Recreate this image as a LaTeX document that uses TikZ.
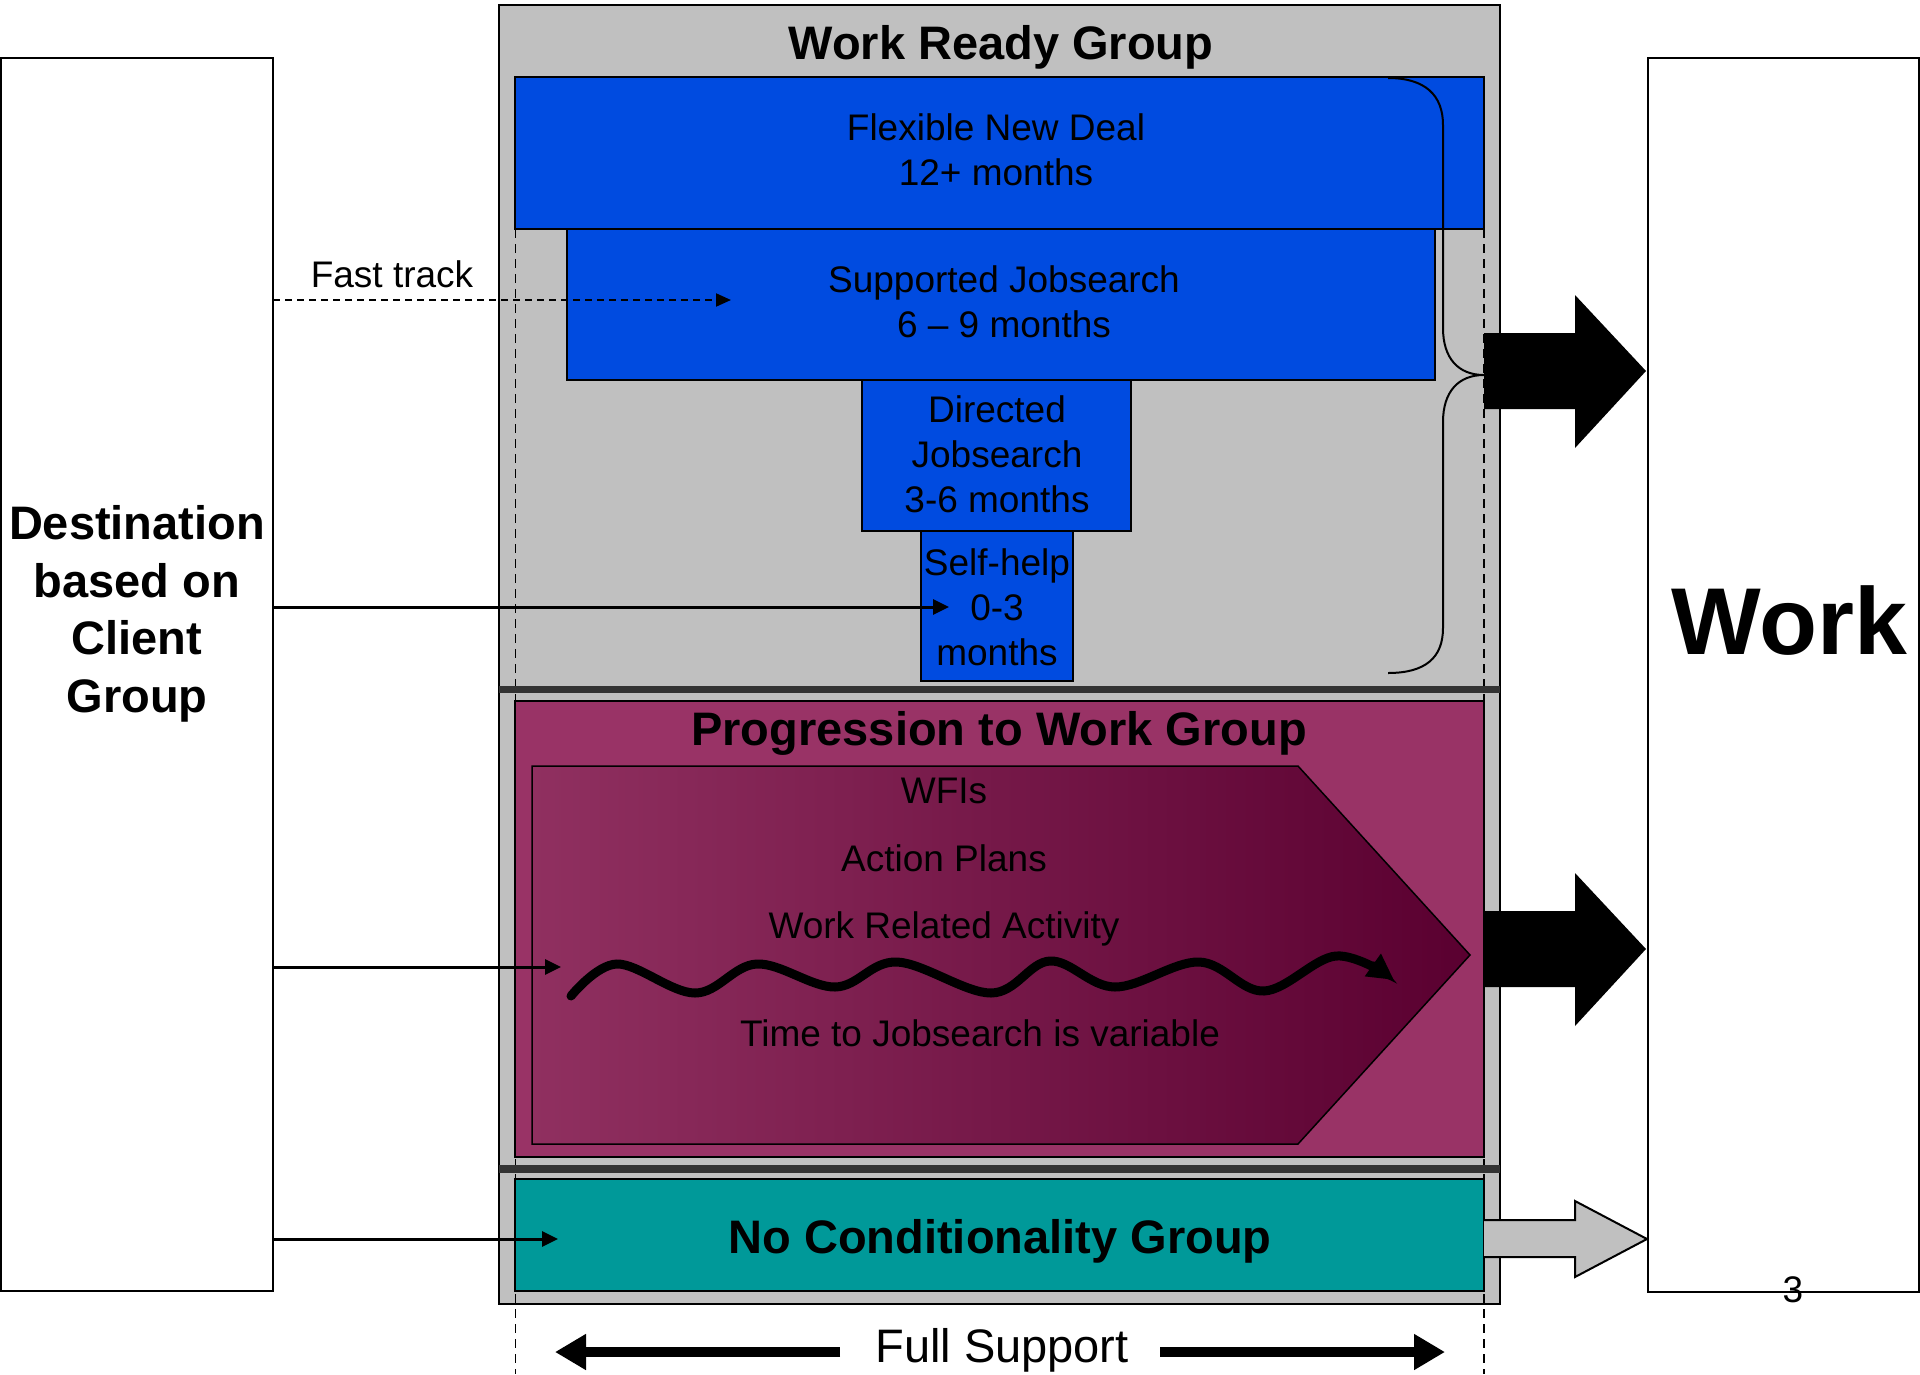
\documentclass[tikz,border=0pt]{standalone}
\usepackage{fontspec}
\setmainfont{Liberation Sans}
\usetikzlibrary{arrows.meta}

\definecolor{panelgray}{HTML}{C0C0C0}
\definecolor{jsblue}{HTML}{004BE0}
\definecolor{plum}{HTML}{993366}
\definecolor{plumdark}{HTML}{5A0030}
\definecolor{tealgrp}{HTML}{009999}
\definecolor{barcol}{HTML}{333333}

\tikzset{
  box/.style={draw=black, line width=2pt, inner sep=0pt, outer sep=0pt},
  bluebox/.style={box, fill=jsblue},
  grouptitle/.style={inner sep=0pt, font=\bfseries\fontsize{47}{57}\selectfont},
  plaintext/.style={inner sep=0pt, font=\fontsize{37}{45}\selectfont},
  stagetext/.style={plaintext, align=center},
  feed/.style={line width=3pt, -{Triangle[length=16pt,width=15pt]}},
  fastfeed/.style={line width=2pt, dash pattern=on 7pt off 5pt, -{Triangle[length=15pt,width=13pt]}},
  guide/.style={line width=1.5pt, dash pattern=on 9pt off 6pt},
  bar/.style={fill=barcol},
  blockarrow/.style={fill=black},
  wave/.style={line width=9pt, line cap=round, -{Triangle[length=26pt,width=26pt]}},
  support/.style={line width=10pt, -{Triangle[length=31pt,width=34pt]}},
}

\begin{document}
\begin{tikzpicture}[x=1pt,y=-1pt]
\useasboundingbox (0,0) rectangle (1920,1374);

% outer columns
\node[box, line width=1.5pt, minimum width=272pt, minimum height=1233pt] (dest) at (137,674.5) {};
\node[grouptitle, align=center, font=\bfseries\fontsize{47}{57.5}\selectfont] (destlabel) at (137,614)
  {Destination\\based on\\Client\\Group};
\node[box, line width=1.5pt, minimum width=271pt, minimum height=1234pt] (work) at (1783.5,675) {};
\node[inner sep=0pt, font=\bfseries\fontsize{95}{110}\selectfont] (worklabel) at (1789,621) {Work};
\node[plaintext] (pagenum) at (1793,1290) {3};

% central grey panel
\node[box, fill=panelgray, minimum width=1001pt, minimum height=1299pt] (panel) at (999.5,654.5) {};
\node[grouptitle] (wrtitle) at (1001,47) {Work Ready Group};

% dashed guides of the full-support span
\coordinate (gl1) at (515.5,229);
\coordinate (gl2) at (515.5,1374);
\coordinate (gr1) at (1484,229);
\coordinate (gr2) at (1484,1374);
\draw[guide] (gl1) -- (gl2);
\draw[guide] (gr1) -- (gr2);

% work ready stages
\node[bluebox, minimum width=969pt, minimum height=152pt] (fnd) at (999.5,153) {};
\node[stagetext] (fndtext) at (996,150) {Flexible New Deal\\12+ months};
\node[bluebox, minimum width=868pt, minimum height=151pt] (sj) at (1001,304.5) {};
\node[stagetext] (sjtext) at (1004,301.5) {Supported Jobsearch\\6 -- 9 months};
\node[bluebox, minimum width=269pt, minimum height=151pt] (dj) at (996.5,455.5) {};
\node[stagetext] (djtext) at (997,454) {Directed\\Jobsearch\\3-6 months};
\node[bluebox, minimum width=152pt, minimum height=150pt] (sh) at (997,606) {};
\node[stagetext] (shtext) at (997,607) {Self-help\\0-3\\months};

% separators
\fill[bar] (499,686) rectangle (1500,693);
\fill[bar] (499,1165) rectangle (1500,1173);

% progression to work group
\node[box, fill=plum, minimum width=969pt, minimum height=456pt] (ptw) at (999.5,929) {};
\node[grouptitle] (ptwtitle) at (999,733) {Progression to Work Group};
\path[draw=black, line width=1.5pt, left color=plum!94!black, right color=plumdark]
  (532,766) -- (1298,766) -- (1470,955) -- (1298,1144) -- (532,1144) -- cycle;
\node[plaintext] (wfi) at (944,791) {WFIs};
\node[plaintext] (plans) at (944,858) {Action Plans};
\node[plaintext] (wra) at (944,929) {Work Related Activity};
\node[plaintext] (tjs) at (980,1033) {Time to Jobsearch is variable};
\draw[wave] plot[smooth, tension=0.6] coordinates {
  (571,996) (617,964) (695,993) (757,964) (835,987) (897,962) (991,993)
  (1050,961) (1115,987) (1199,962) (1264,991) (1336,956) (1394,980)};

% no conditionality group
\node[box, fill=tealgrp, minimum width=969pt, minimum height=112pt] (ncg) at (999.5,1235) {};
\node[grouptitle] (ncgtext) at (1000,1241) {No Conditionality Group};

% brace gathering the work ready stages
\draw[line width=2pt]
  (1388,78) .. controls (1425,78) and (1443,95) .. (1443,125) -- (1443,328)
  .. controls (1443,358) and (1458,375) .. (1484,375)
  .. controls (1458,375) and (1443,392) .. (1443,422) -- (1443,628)
  .. controls (1443,658) and (1425,673) .. (1388,673);

% exits into work
\fill[blockarrow] (1484,333) -- (1575,333) -- (1575,295) -- (1646,371)
  -- (1575,448) -- (1575,409) -- (1484,409) -- cycle;
\fill[blockarrow] (1484,911) -- (1575,911) -- (1575,873) -- (1646,949)
  -- (1575,1026) -- (1575,987) -- (1484,987) -- cycle;
\draw[fill=panelgray, line width=2pt] (1484,1220) -- (1575,1220) -- (1575,1201) -- (1647,1239)
  -- (1575,1277) -- (1575,1257) -- (1484,1257);

% entry routes from the destination column
\node[plaintext] (fast) at (392,274) {Fast track};
\coordinate (fastend) at (731,300);
\coordinate (shend) at (949,607);
\coordinate (ptwend) at (561,967);
\coordinate (ncgend) at (558,1239);
\draw[fastfeed] (dest.east |- fastend) -- (fastend);
\draw[feed] (dest.east |- shend) -- (shend);
\draw[feed] (dest.east |- ptwend) -- (ptwend);
\draw[feed] (dest.east |- ncgend) -- (ncgend);

% full support span
\node[inner sep=0pt, font=\fontsize{47}{57}\selectfont] (fs) at (1002,1350) {Full Support};
\coordinate (fsla) at (840,1352);
\coordinate (fslb) at (555,1352);
\coordinate (fsra) at (1160,1352);
\coordinate (fsrb) at (1445,1352);
\draw[support] (fsla) -- (fslb);
\draw[support] (fsra) -- (fsrb);
\end{tikzpicture}
\end{document}
